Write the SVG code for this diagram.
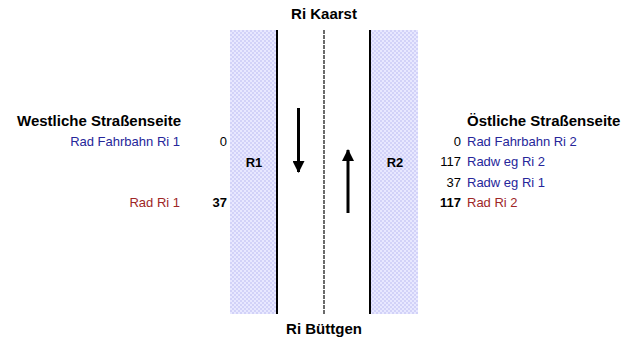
<svg xmlns="http://www.w3.org/2000/svg" width="623" height="341" viewBox="0 0 623 341">
<defs>
<pattern id="dots" width="4" height="4" patternUnits="userSpaceOnUse">
<rect width="4" height="4" fill="#e8e8ff"/>
<rect width="2" height="2" fill="#d2d2f8"/>
<rect x="2" y="2" width="2" height="2" fill="#d2d2f8"/>
</pattern>
<marker id="ah" viewBox="0 0 12 12" markerWidth="12" markerHeight="12" refX="11" refY="6" orient="auto" markerUnits="userSpaceOnUse">
<path d="M0,0 L12,6 L0,12 Z" fill="#000"/>
</marker>
<style>
text{font-family:"Liberation Sans",Arial,sans-serif;font-size:13px;fill:#000}
.b{font-weight:bold}
.h{font-weight:bold;font-size:15px}
.blue{fill:#26269a}
.red{fill:#9e2626}
.r{text-anchor:end}
.c{text-anchor:middle}
</style>
</defs>
<rect width="623" height="341" fill="#fff"/>
<g id="road">
<rect x="230" y="30" width="47" height="284" fill="url(#dots)"/>
<rect x="370" y="30" width="48" height="284" fill="url(#dots)"/>
<line x1="277" y1="30" x2="277" y2="314" stroke="#000" stroke-width="2"/>
<line x1="370" y1="30" x2="370" y2="314" stroke="#000" stroke-width="2"/>
<line x1="324" y1="30" x2="324" y2="314" stroke="#3a3a3a" stroke-width="1.5" stroke-dasharray="4,1"/>
</g>
<g id="connectors">
<line x1="298.5" y1="108" x2="298.5" y2="172" stroke="#000" stroke-width="3" marker-end="url(#ah)"/>
<line x1="348" y1="213" x2="348" y2="150" stroke="#000" stroke-width="3" marker-end="url(#ah)"/>
</g>
<g id="kaarst"><text class="h c" x="324" y="19">Ri Kaarst</text></g>
<g id="buettgen"><text class="h c" x="324" y="334">Ri Büttgen</text></g>
<g id="west">
<text class="h r" x="181" y="126">Westliche Straßenseite</text>
<text class="blue r" x="180" y="146">Rad Fahrbahn Ri 1</text>
<text class="r" x="227" y="146">0</text>
<text class="red r" x="180" y="207">Rad Ri 1</text>
<text class="b r" x="227" y="207">37</text>
</g>
<g id="R1"><text class="b c" x="254" y="167">R1</text></g>
<g id="R2"><text class="b c" x="395" y="167">R2</text></g>
<g id="east">
<text class="h" x="467" y="126">Östliche Straßenseite</text>
<text class="r" x="461" y="146">0</text>
<text class="blue" x="467" y="146">Rad Fahrbahn Ri 2</text>
<text class="r" x="461" y="166">117</text>
<text class="blue" x="467" y="166">Radw eg Ri 2</text>
<text class="r" x="461" y="187">37</text>
<text class="blue" x="467" y="187">Radw eg Ri 1</text>
<text class="b r" x="461" y="207">117</text>
<text class="red" x="467" y="207">Rad Ri 2</text>
</g>
</svg>
